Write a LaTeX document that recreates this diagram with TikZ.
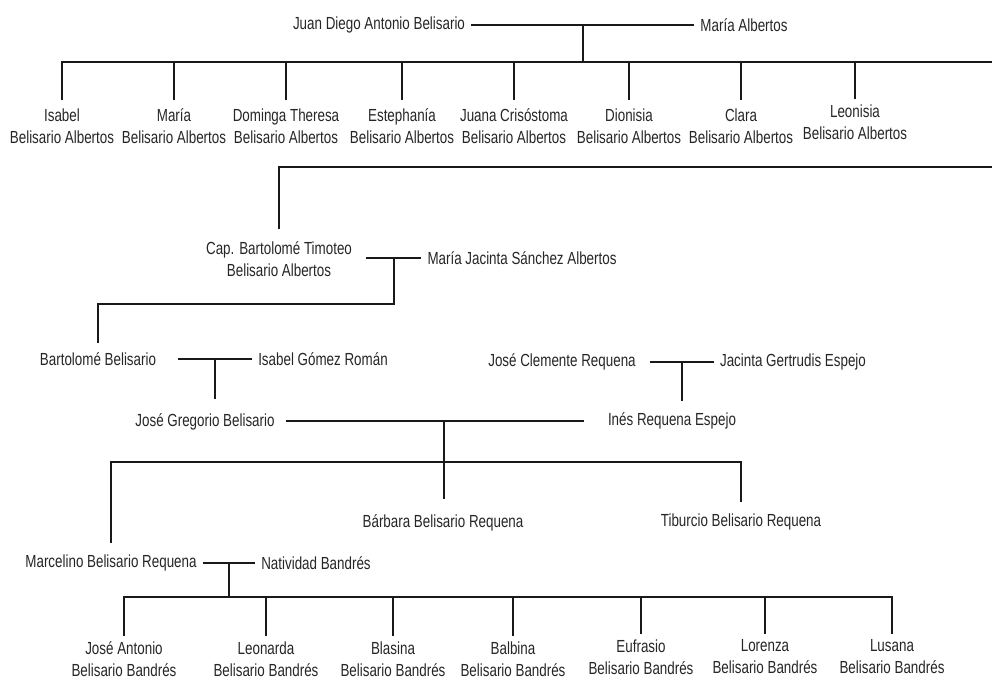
\documentclass[tikz,border=0pt]{standalone}
\usepackage{fontspec}
\setmainfont{Liberation Sans}[FakeStretch=0.765]
\tikzset{
  ft base/.style={font={\fontsize{17.5}{22}\selectfont}, text=black!85,
    inner xsep=6pt, inner ysep=9pt},
  ft person/.style={ft base},
  ft child/.style={ft base, align=center, inner ysep=8pt},
  ft grand/.style={ft child, inner ysep=5.5pt},
  ft line/.style={line width=1.7pt, black!90},
}
\begin{document}
\begin{tikzpicture}[x=1pt, y=-1pt]
\useasboundingbox (0,0) rectangle (992,680);

% first generation
\node (juan)  [ft person] at (379,25) {Juan Diego Antonio Belisario};
\node (maria) [ft person] at (744,25) {María Albertos};
\node (isabel)     [ft child] at (62,126)  {Isabel\\Belisario Albertos};
\node (mariaba)    [ft child] at (174,126) {María\\Belisario Albertos};
\node (dominga)    [ft child] at (286,126) {Dominga Theresa\\Belisario Albertos};
\node (estephania) [ft child] at (402,126) {Estephanía\\Belisario Albertos};
\node (juana)      [ft child] at (514,126) {Juana Crisóstoma\\Belisario Albertos};
\node (dionisia)   [ft child] at (629,126) {Dionisia\\Belisario Albertos};
\node (clara)      [ft child] at (741,126) {Clara\\Belisario Albertos};
\node (leonisia)   [ft child, inner ysep=5pt] at (855,122) {Leonisia\\Belisario Albertos};
\coordinate (row1end) at (992,62);
\coordinate (row2end) at (992,167);

\draw [ft line] (juan.east) -- coordinate[pos=0.5] (m1) (maria.west);
\path (m1) ++(0,37) coordinate (b1);
\draw [ft line] (m1) -- (b1);
\draw [ft line] (isabel.north) |- (row1end);
\draw [ft line] (mariaba.north)    -- (mariaba.north |- b1);
\draw [ft line] (dominga.north)    -- (dominga.north |- b1);
\draw [ft line] (estephania.north) -- (estephania.north |- b1);
\draw [ft line] (juana.north)      -- (juana.north |- b1);
\draw [ft line] (dionisia.north)   -- (dionisia.north |- b1);
\draw [ft line] (clara.north)      -- (clara.north |- b1);
\draw [ft line] (leonisia.north)   -- (leonisia.north |- b1);

% Cap. Bartolome
\node (cap)     [ft child, inner ysep=12pt] at (279,259) {Cap. Bartolomé Timoteo\\Belisario Albertos};
\node (mjacinta) [ft person] at (522,258) {María Jacinta Sánchez Albertos};
\draw [ft line] (row2end) -| (cap.north);
\draw [ft line] ([xshift=8pt]cap.east |- mjacinta.west) -- coordinate[pos=0.5] (m2) (mjacinta.west);
\path (m2) ++(0,46) coordinate (b2);

\node (bartolome) [ft person] at (98,359)  {Bartolomé Belisario};
\node (isabelg)   [ft person] at (323,359) {Isabel Gómez Román};
\draw [ft line] (m2) -- (b2) -| (bartolome.north);
\draw [ft line] ([xshift=16pt]bartolome.east) -- coordinate[pos=0.5] (m3) (isabelg.west);

% Requena
\node (josecl)  [ft person] at (562,362) {José Clemente Requena};
\node (jacinta) [ft person] at (793,362) {Jacinta Gertrudis Espejo};
\draw [ft line] ([xshift=8pt]josecl.east) -- coordinate[pos=0.5] (m4) (jacinta.west);

\node (josegreg) [ft person, inner ysep=15pt] at (205,422) {José Gregorio Belisario};
\node (ines)     [ft person, inner ysep=12pt] at (672,421) {Inés Requena Espejo};
\draw [ft line] (m3) -- (m3 |- josegreg.north);
\draw [ft line] (m4) -- (m4 |- ines.north);
\draw [ft line] ([xshift=5pt]josegreg.east |- ines.west) -- coordinate[pos=0.53] (m5) ([xshift=-18pt]ines.west);
\path (m5) ++(0,41) coordinate (b5);

% children of Jose Gregorio
\node (marcelino) [ft person, inner ysep=12pt] at (111,563) {Marcelino Belisario Requena};
\node (barbara)   [ft person, inner ysep=16pt] at (443,523) {Bárbara Belisario Requena};
\node (tiburcio)  [ft person, inner ysep=12pt] at (741,522) {Tiburcio Belisario Requena};
\draw [ft line] (m5) -- (m5 |- barbara.north);
\draw [ft line] (marcelino.north) |- (b5) -| (tiburcio.north);

\node (natividad) [ft person] at (316,563) {Natividad Bandrés};
\draw [ft line] (marcelino.east) -- coordinate[pos=0.5] (m6) (natividad.west);
\path (m6) ++(0,34) coordinate (b6);

% last generation
\node (joseant)  [ft grand] at (124,659) {José Antonio\\Belisario Bandrés};
\node (leonarda) [ft grand] at (266,659) {Leonarda\\Belisario Bandrés};
\node (blasina)  [ft grand] at (393,659) {Blasina\\Belisario Bandrés};
\node (balbina)  [ft grand] at (513,659) {Balbina\\Belisario Bandrés};
\node (eufrasio) [ft grand] at (641,657) {Eufrasio\\Belisario Bandrés};
\node (lorenza)  [ft grand] at (765,657) {Lorenza\\Belisario Bandrés};
\node (lusana)   [ft grand] at (892,657) {Lusana\\Belisario Bandrés};
\draw [ft line] (m6) -- ++(0,35);
\draw [ft line] (joseant.north) |- (b6) -| (lusana.north);
\draw [ft line] (leonarda.north) -- (leonarda.north |- b6);
\draw [ft line] (blasina.north)  -- (blasina.north |- b6);
\draw [ft line] (balbina.north)  -- (balbina.north |- b6);
\draw [ft line] (eufrasio.north) -- (eufrasio.north |- b6);
\draw [ft line] (lorenza.north)  -- (lorenza.north |- b6);
\end{tikzpicture}
\end{document}
